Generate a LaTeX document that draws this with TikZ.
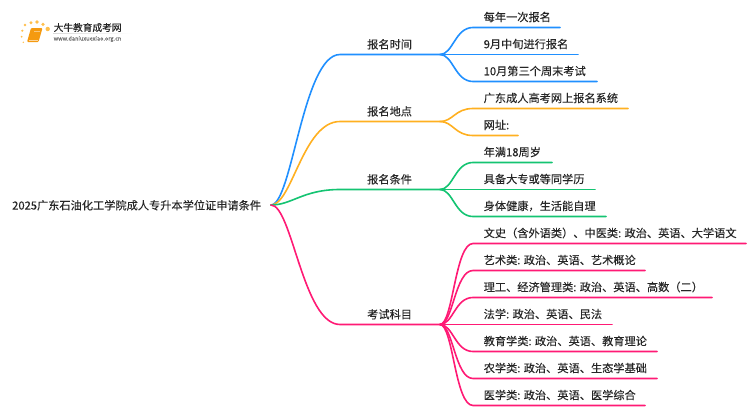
\documentclass[tikz,border=0pt]{standalone}
\usepackage{fontspec}
\setmainfont[FakeBold=0.06]{Noto Sans CJK SC}
\definecolor{cblue}{HTML}{2090FF}
\definecolor{corange}{HTML}{FFB020}
\definecolor{cgreen}{HTML}{14C472}
\definecolor{cpink}{HTML}{FF1A75}
\definecolor{ctext}{HTML}{262626}
\definecolor{bookc}{HTML}{F59A10}
\tikzset{
  txt/.style={font=\fontsize{11.2}{13}\selectfont,text=ctext,inner sep=0pt,anchor=west},
  conn/.style={line width=1.6pt,line cap=round,line join=round},
}
\newcommand{\midbranch}[4]{% name, y, colour, text
  \coordinate (#1a) at (340,#2);
  \coordinate (#1b) at (440,#2);
  \node[txt] (#1) at (367,#2-10.2) {#4};
  \draw[conn,#3] (root) .. controls (292,205) and (303,#2) .. (#1a) -- (#1b);
}
\newcommand{\leaf}[6]{% parent, name, y, xend, colour, text
  \coordinate (#2a) at (473,#3);
  \coordinate (#2b) at (#4,#3);
  \node[txt] (#2) at (483.5,#3-10.5) {#6};
  \draw[conn,#5] (#1b) .. controls ([xshift=13pt]#1b) and (455,#3) .. (#2a) -- (#2b);
}
\begin{document}
\begin{tikzpicture}[x=1pt,y=-1pt]
\useasboundingbox (0,0) rectangle (750,410);
\fill[white] (0,0) rectangle (750,410);
% logo
\foreach \x/\y/\r in {23.3/42.3/.8,21.7/36.7/1,22.3/30.7/1.2,25/25/1.4,31/22.7/1.7,37/22/1.8,43/24.3/1.8,47.7/29/2.2}
  \fill[corange,opacity=.8] (\x,\y) circle (\r);
\fill[bookc,rounded corners=1pt] (31,28) -- (42.5,28) -- (38.5,42) -- (27,42) -- cycle;
\draw[white,opacity=.6,line width=.6pt] (29,40) -- (37.5,40);
\draw[white,opacity=.45,line width=.5pt] (34,31) -- (39.5,31);
% logo text
\node[inner sep=0pt,anchor=west,font=\fontsize{9.7}{11}\selectfont,text=ctext] (logot) at (53.5,27.5) {大牛教育成考网};
\node[inner sep=0pt,anchor=west,font=\fontsize{5.6}{6}\selectfont,text=black!55] (logou) at (53.5,39) {www.daniuxuexiao.org.cn};
\shade[left color=black!15,right color=white] (53,33) rectangle (133,33.7);
% root
\coordinate (root) at (271,205);
\node[txt] (rootlabel) at (12,205.3) {2025广东石油化工学院成人专升本学位证申请条件};
% branches
\midbranch{m1}{54.5}{cblue}{报名时间}
\midbranch{m2}{121.5}{corange}{报名地点}
\midbranch{m3}{189.5}{cgreen}{报名条件}
\midbranch{m4}{324.5}{cpink}{考试科目}
\leaf{m1}{a1}{27.5}{560}{cblue}{每年一次报名}
\leaf{m1}{a2}{54.5}{578}{cblue}{9月中旬进行报名}
\leaf{m1}{a3}{81.5}{597}{cblue}{10月第三个周末考试}
\leaf{m2}{b1}{108.5}{628}{corange}{广东成人高考网上报名系统}
\leaf{m2}{b2}{135.5}{518}{corange}{网址:}
\leaf{m3}{c1}{162.5}{552}{cgreen}{年满18周岁}
\leaf{m3}{c2}{189.5}{595}{cgreen}{具备大专或等同学历}
\leaf{m3}{c3}{216.5}{606}{cgreen}{身体健康，生活能自理}
\leaf{m4}{d1}{243.5}{746}{cpink}{文史（含外语类）、中医类: 政治、英语、大学语文}
\leaf{m4}{d2}{270.5}{645}{cpink}{艺术类: 政治、英语、艺术概论}
\leaf{m4}{d3}{297.5}{712}{cpink}{理工、经济管理类: 政治、英语、高数（二）}
\leaf{m4}{d4}{324.5}{612}{cpink}{法学: 政治、英语、民法}
\leaf{m4}{d5}{351.5}{657}{cpink}{教育学类: 政治、英语、教育理论}
\leaf{m4}{d6}{378.5}{657}{cpink}{农学类: 政治、英语、生态学基础}
\leaf{m4}{d7}{405.5}{645}{cpink}{医学类: 政治、英语、医学综合}
\end{tikzpicture}
\end{document}
